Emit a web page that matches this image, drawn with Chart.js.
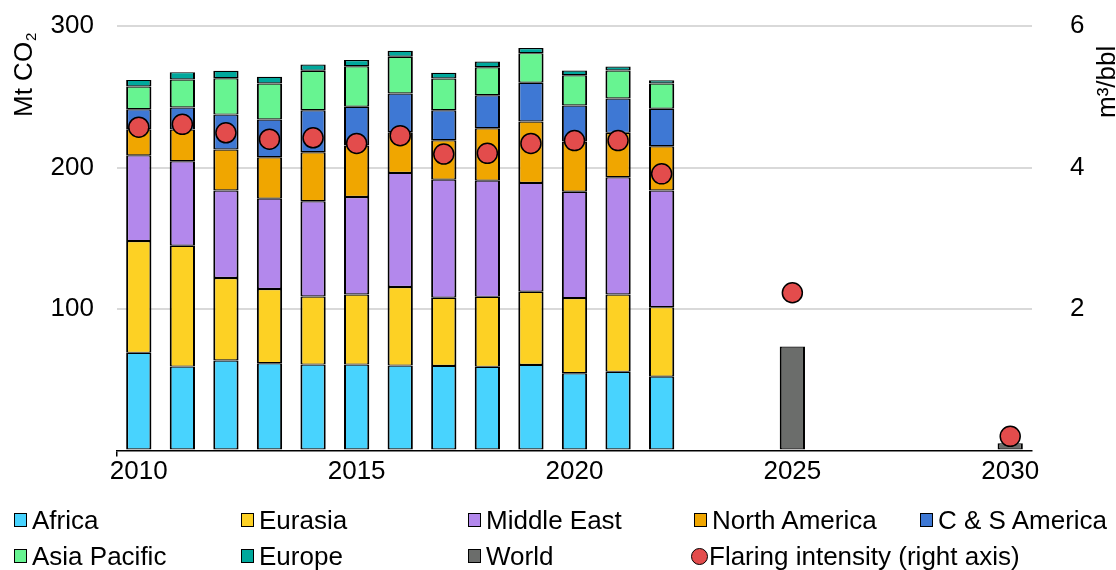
<!DOCTYPE html>
<html>
<head>
<meta charset="utf-8">
<script src="https://cdn.jsdelivr.net/npm/chart.js@4"></script>
<style>
  html, body { margin: 0; padding: 0; background: #fff; }
  #wrap { position: relative; width: 1116px; height: 570px; }
  #legend { position: absolute; left: 0; top: 0; width: 1116px; height: 570px; pointer-events: none;
            font-family: "Liberation Sans", Arial, sans-serif; font-size: 26px; color: #000; }
  .item { position: absolute; display: flex; align-items: center; white-space: nowrap; line-height: 1; }
  .box { width: 11px; height: 12px; border: 1.5px solid #000; margin-right: 5px; }
  .dot { width: 15px; height: 15px; border: 1.5px solid #000; border-radius: 50%; margin-right: 1px; margin-left: -3px; }
</style>
</head>
<body>
<div id="wrap">
  <canvas id="chart"></canvas>
  <div id="legend"></div>
</div>
<script>
// Years on the axis
const years = [];
for (let y = 2010; y <= 2030; y++) years.push(String(y));

// Flaring emissions by region, Mt CO2, 2010-2022
const africa       = [69.0, 59.3, 63.6, 61.7, 60.7, 60.7, 60.0, 59.8, 59.1, 60.5, 54.6, 55.6, 52.2];
const eurasia      = [79.0, 85.4, 58.3, 52.4, 48.1, 49.6, 55.5, 48.1, 49.5, 51.7, 53.1, 54.7, 49.1];
const middleEast   = [60.6, 59.7, 61.8, 63.9, 67.3, 68.9, 80.7, 83.5, 82.1, 76.9, 75.2, 82.8, 82.4];
const northAmerica = [18.4, 22.4, 29.0, 29.2, 34.7, 36.3, 28.7, 27.9, 37.0, 43.4, 35.4, 31.4, 31.3];
const csAmerica    = [14.2, 15.6, 24.7, 26.7, 29.7, 27.4, 27.4, 21.2, 23.4, 27.4, 25.5, 24.3, 26.5];
const asiaPacific  = [16.0, 19.8, 25.7, 25.5, 27.9, 28.7, 26.0, 22.4, 19.8, 20.9, 21.4, 19.8, 17.9];
const europe       = [4.7, 5.2, 5.3, 4.7, 4.4, 4.3, 4.2, 4.0, 4.0, 3.6, 3.4, 2.8, 2.3];

// Outlook years (world only)
const outlookYears = ["2025", "2030"];
const world        = [73.5, 5.1];

// Flaring intensity, m3/bbl (right axis)
const flaringHist    = [4.57, 4.61, 4.49, 4.40, 4.42, 4.34, 4.45, 4.19, 4.20, 4.34, 4.38, 4.38, 3.91];
const flaringOutlook = [2.23, 0.2];

const FONT = '"Liberation Sans", Arial, sans-serif';
Chart.defaults.font.family = FONT;
Chart.defaults.font.size = 26;
Chart.defaults.color = "#000";

// pad a 2010-2022 series out to 2030
const pad = arr => years.map((y, i) => (i < arr.length ? arr[i] : null));
const outlook = (hist, vals) => years.map((y, i) => {
  if (i < hist.length) return hist[i];
  const k = outlookYears.indexOf(y);
  return k >= 0 ? vals[k] : null;
});

const regions = [
  { label: "Africa",        data: pad(africa),       color: "#48D3FE" },
  { label: "Eurasia",       data: pad(eurasia),      color: "#FDD124" },
  { label: "Middle East",   data: pad(middleEast),   color: "#B388EC" },
  { label: "North America", data: pad(northAmerica), color: "#F0A600" },
  { label: "C & S America", data: pad(csAmerica),    color: "#3E78D4" },
  { label: "Asia Pacific",  data: pad(asiaPacific),  color: "#67F491" },
  { label: "Europe",        data: pad(europe),       color: "#00A89C" },
  { label: "World",         data: outlook([], world), color: "#6B6D6B" }
];

const datasets = [{
  type: "line",
  label: "Flaring intensity (right axis)",
  data: outlook(flaringHist, flaringOutlook),
  yAxisID: "y2",
  showLine: false,
  pointRadius: 10,
  pointBackgroundColor: "#E34C4C",
  pointBorderColor: "#000",
  pointBorderWidth: 1.5,
  order: 0
}];
regions.forEach(r => datasets.push({
  type: "bar",
  label: r.label,
  data: r.data,
  backgroundColor: r.color,
  borderColor: "#000",
  borderWidth: { top: 1.2, bottom: 1.2, left: 2, right: 2 },
  borderSkipped: false,
  stack: "s",
  yAxisID: "y",
  barPercentage: 0.58,
  categoryPercentage: 1,
  order: 1
}));

// Rotated axis titles (both read bottom to top)
const axisTitles = {
  id: "axisTitles",
  afterDraw(chart) {
    const c = chart.ctx;
    c.save();
    c.fillStyle = "#000";
    c.textAlign = "left";
    c.textBaseline = "alphabetic";
    c.translate(32, 117);
    c.rotate(-Math.PI / 2);
    c.font = "26px " + FONT;
    c.fillText("Mt CO", 0, 0);
    const w = c.measureText("Mt CO").width;
    c.font = "15px " + FONT;
    c.fillText("2", w + 1, 4);
    c.restore();

    c.save();
    c.fillStyle = "#000";
    c.textAlign = "left";
    c.textBaseline = "alphabetic";
    c.translate(1115, 118);
    c.rotate(-Math.PI / 2);
    c.font = "26px " + FONT;
    c.fillText("m³/bbl", 0, 0);
    c.restore();
  }
};

// keep tick-label overhang from pushing the plot area around
const noPad = s => { s.paddingTop = 0; s.paddingBottom = 0; s.paddingLeft = 0; s.paddingRight = 0; };

const chart = new Chart(document.getElementById("chart"), {
  data: { labels: years, datasets: datasets },
  options: {
    responsive: true,
    maintainAspectRatio: false,
    animation: false,
    layout: { padding: { top: 26, bottom: 79.5, left: 0, right: 0 } },
    plugins: { legend: { display: false }, tooltip: { enabled: false } },
    scales: {
      x: {
        stacked: true,
        offset: true,
        border: { display: true, color: "#000", width: 1.5 },
        grid: {
          drawOnChartArea: false,
          drawTicks: true,
          tickLength: 6,
          lineWidth: 1.5,
          color: ctx => (ctx.index === 0 || ctx.index === years.length) ? "#000" : "rgba(0,0,0,0)"
        },
        ticks: {
          autoSkip: false,
          maxRotation: 0,
          padding: 0,
          callback: function (v, i) { return Number(years[i]) % 5 === 0 ? years[i] : ""; }
        },
        afterFit: s => { s.height = 40; noPad(s); }
      },
      y: {
        position: "left",
        stacked: true,
        min: 0,
        max: 300,
        border: { display: false },
        grid: {
          drawTicks: false,
          lineWidth: 2,
          color: ctx => ctx.tick && ctx.tick.value === 0 ? "rgba(0,0,0,0)" : "#d9d9d9"
        },
        ticks: { stepSize: 100, padding: 23, callback: v => (v === 0 ? "" : v) },
        afterFit: s => { s.width = 117; noPad(s); }
      },
      y2: {
        position: "right",
        min: 0,
        max: 6,
        border: { display: false },
        grid: { display: false, drawOnChartArea: false },
        ticks: { stepSize: 2, padding: 30, callback: v => (v === 0 ? "" : v) },
        afterFit: s => { s.width = 84; noPad(s); }
      }
    }
  },
  plugins: [axisTitles]
});

// Legend laid out in fixed columns like the original
const legendOrder = [
  ["Africa", "Eurasia", "Middle East", "North America", "C & S America"],
  ["Asia Pacific", "Europe", "World", "Flaring intensity (right axis)"]
];
const colX = [14, 241, 468, 694, 920];
const rowY = [520, 556];
const legendEl = document.getElementById("legend");
legendOrder.forEach((row, r) => row.forEach((name, c) => {
  const item = document.createElement("div");
  item.className = "item";
  item.style.left = colX[c] + "px";
  item.style.top = (rowY[r] - 13) + "px";
  item.style.height = "26px";
  const mark = document.createElement("span");
  const reg = regions.find(x => x.label === name);
  if (reg) {
    mark.className = "box";
    mark.style.background = reg.color;
  } else {
    mark.className = "dot";
    mark.style.background = "#E34C4C";
  }
  const txt = document.createElement("span");
  txt.textContent = name;
  item.appendChild(mark);
  item.appendChild(txt);
  legendEl.appendChild(item);
}));
</script>
</body>
</html>
